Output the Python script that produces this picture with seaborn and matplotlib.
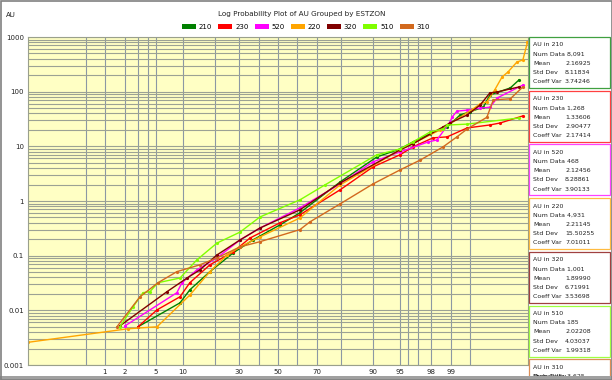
import numpy as np
import pandas as pd
import matplotlib
matplotlib.use("Agg")
import matplotlib.pyplot as plt
import seaborn as sns
from matplotlib.patches import Rectangle
from matplotlib.ticker import LogLocator, NullFormatter
from statistics import NormalDist

# ---------------- data ----------------
groups = ["210", "230", "520", "220", "320", "510", "310"]
colors = ["#008000", "#ff0000", "#ff00ff", "#ffa500", "#800000", "#80ff00", "#d2691e"]

p_210 = [2.99, 9.39, 11.8, 18.0, 27.3, 36.8, 51.1, 61.6, 79.8, 90.8, 94.95, 96.5, 97.95, 98.85, 99.28, 99.51, 99.71, 99.78, 99.91, 99.94]
v_210 = [0.005, 0.0137, 0.0237, 0.051, 0.112, 0.194, 0.366, 0.61, 2.23, 6.4, 8.95, 12.0, 16.9, 22.6, 37.5, 43, 52, 87, 117, 164]

p_230 = [2.99, 5.2, 9.39, 11.8, 18.0, 27.3, 35.3, 51.1, 61.6, 79.8, 89.9, 94.95, 96.5, 98.14, 98.85, 99.45, 99.78, 99.86, 99.95]
v_230 = [0.005, 0.0102, 0.0177, 0.032, 0.068, 0.117, 0.21, 0.40, 0.56, 1.6, 4.2, 7.0, 9.75, 14.3, 14.9, 21.7, 24.6, 26.8, 36]

p_520 = [1.99, 8.7, 9.85, 13.8, 20.6, 30.5, 40.4, 61.6, 79.8, 89.9, 94.95, 97.8, 98.37, 98.96, 99.03, 99.19, 99.45, 99.67, 99.78, 99.84, 99.95]
v_520 = [0.0052, 0.021, 0.032, 0.055, 0.091, 0.194, 0.32, 0.75, 2.05, 5.2, 7.9, 12.0, 13.1, 28, 34, 44, 46, 50, 52, 77, 132]

p_220 = [0.039, 2.19, 5.2, 11.8, 18.0, 24.7, 30.5, 40.4, 61.6, 79.8, 94.95, 98.53, 99.56, 99.67, 99.75, 99.82, 99.87, 99.90, 99.934, 99.95, 99.96]
v_220 = [0.0026, 0.0046, 0.005, 0.019, 0.051, 0.103, 0.145, 0.22, 0.49, 1.97, 8.6, 20, 48, 60, 65, 107, 186, 229, 349, 380, 800]

p_320 = [1.68, 6.8, 11.07, 14.7, 20.6, 30.5, 40.4, 61.6, 79.8, 94.95, 96.5, 98.67, 98.96, 99.45, 99.67, 99.78, 99.84, 99.94]
v_320 = [0.0052, 0.022, 0.039, 0.055, 0.103, 0.194, 0.32, 0.69, 2.14, 8.6, 11.1, 22.6, 26.8, 37.5, 57, 95, 99, 122]

p_510 = [1.68, 2.57, 3.48, 4.27, 5.34, 9.39, 13.8, 20.6, 30.5, 40.4, 61.6, 73.6, 90.8, 94.95, 96.5, 97.95, 98.67, 98.85, 99.45, 99.94]
v_510 = [0.005, 0.0116, 0.021, 0.022, 0.032, 0.039, 0.084, 0.17, 0.27, 0.51, 1.05, 1.97, 7.0, 8.95, 12.0, 18.3, 20.8, 24.5, 25.5, 33]

p_310 = [1.52, 3.18, 5.34, 8.7, 14.7, 20.6, 30.5, 40.4, 61.6, 66.6, 79.8, 89.9, 94.95, 97.2, 98.67, 99.19, 99.45, 99.75, 99.81, 99.91, 99.95]
v_310 = [0.005, 0.0177, 0.032, 0.051, 0.068, 0.091, 0.145, 0.18, 0.30, 0.415, 0.885, 2.05, 3.7, 5.6, 9.75, 14.9, 20.8, 34, 71, 74, 122]

num_data = ["8,091", "1,268", "468", "4,931", "1,001", "185", "3,625"]
means = ["2.16925", "1.33606", "2.12456", "2.21145", "1.89990", "2.02208", ""]
stds = ["8.11834", "2.90477", "8.28861", "15.50255", "6.71991", "4.03037", ""]
cvs = ["3.74246", "2.17414", "3.90133", "7.01011", "3.53698", "1.99318", ""]

x_tick_labels = [1, 2, 5, 10, 30, 50, 70, 90, 95, 98, 99]
x_grid = [0.5, 1, 2, 3, 4, 5, 10, 20, 30, 40, 50, 60, 70, 80, 90, 95, 96, 97, 98, 99, 99.5]
y_ticks = [0.001, 0.01, 0.1, 1, 10, 100, 1000]
y_tick_labels = ["0.001", "0.01", "0.1", "1", "10", "100", "1000"]

series_p = [p_210, p_230, p_520, p_220, p_320, p_510, p_310]
series_v = [v_210, v_230, v_520, v_220, v_320, v_510, v_310]

df = pd.concat(
    [pd.DataFrame({"p": p, "v": v, "group": g}) for g, p, v in zip(groups, series_p, series_v)],
    ignore_index=True,
)

# ---------------- probability scale ----------------
_nd = NormalDist()
_fwd = np.vectorize(lambda q: _nd.inv_cdf(min(max(q, 1e-7), 100 - 1e-7) / 100.0), otypes=[float])
_inv = np.vectorize(lambda t: _nd.cdf(t) * 100.0, otypes=[float])


def fwd(p):
    return _fwd(np.asarray(p, dtype=float))


def inv(z):
    return _inv(np.asarray(z, dtype=float))


# ---------------- figure ----------------
W, H = 612, 380
fig = plt.figure(figsize=(W / 100, H / 100), dpi=100)
fig.patch.set_facecolor("white")
ax = fig.add_axes([28 / W, 15 / H, 500 / W, 328 / H])
ax.set_facecolor("#ffffc4")

sns.lineplot(
    data=df, x="p", y="v", hue="group", hue_order=groups, palette=colors,
    marker="o", markersize=2.3, markeredgewidth=0, linewidth=1.0,
    estimator=None, sort=False, legend=False, ax=ax,
)

ax.set_yscale("log")
ax.set_xscale("function", functions=(fwd, inv))
ax.set_xlim(0.039, 99.961)
ax.set_ylim(0.001, 1000)

ax.set_xticks(x_grid, labels=[str(v) if v in x_tick_labels else "" for v in x_grid])
ax.xaxis.set_minor_locator(matplotlib.ticker.NullLocator())
ax.set_yticks(y_ticks, labels=y_tick_labels)
ax.yaxis.set_minor_locator(LogLocator(base=10, subs=np.arange(2, 10)))
ax.yaxis.set_minor_formatter(NullFormatter())

ax.grid(which="major", axis="x", color="#8c98a4", lw=0.8)
ax.grid(which="both", axis="y", color="#9ca294", lw=0.8)
ax.set_axisbelow(True)
ax.tick_params(which="both", length=0, labelsize=5, colors="#222222", pad=3)
ax.set_xlabel("")
ax.set_ylabel("")
for s in ax.spines.values():
    s.set_color("#9aa08c")
    s.set_linewidth(0.8)

# title / labels
fig.text(302 / W, 1 - 14 / H, "Log Probability Plot of AU Grouped by ESTZON",
         ha="center", va="center", fontsize=5.2, color="#222222")
fig.text(6 / W, 1 - 15 / H, "AU", ha="left", va="center", fontsize=5, color="#222222")

handles = [Rectangle((0, 0), 1, 1, fc=c, ec="none") for c in colors]
fig.legend(handles, groups, ncol=7, loc="center", bbox_to_anchor=(306 / W, 1 - 27 / H),
           frameon=False, fontsize=5, handlelength=2.0, handleheight=0.8,
           columnspacing=0.9, handletextpad=0.4, borderpad=0)

# stats boxes
pitch = 53.7
for i, g in enumerate(groups):
    top = 37 + i * pitch
    rect = Rectangle((529 / W, 1 - (top + 51) / H), 81 / W, 51 / H, transform=fig.transFigure,
                     fc="white", ec=colors[i], lw=0.9, alpha=0.75, zorder=2)
    fig.patches.append(rect)
    lines = [("AU in " + g, ""), ("Num Data " + num_data[i], ""), ("Mean", means[i]),
             ("Std Dev", stds[i]), ("Coeff Var", cvs[i])]
    if i == len(groups) - 1:
        lines = lines[:2]
    for j, (lab, val) in enumerate(lines):
        yy = 1 - (top + 8 + j * 9.2) / H
        fig.text(533 / W, yy, lab, ha="left", va="center", fontsize=4.5, color="#222222", zorder=3)
        if val:
            fig.text(565 / W, yy, val, ha="left", va="center", fontsize=4.5, color="#222222", zorder=3)
    if i == len(groups) - 1:
        fig.text(533 / W, 1 - (top + 8 + 9.2) / H, "Probability", ha="left", va="center",
                 fontsize=4.5, color="#222222", zorder=3)

# window frame
fig.patches.append(Rectangle((0, 0), 1, 4 / H, transform=fig.transFigure, fc="#a0a0a0",
                             ec="none", zorder=10))
fig.patches.append(Rectangle((0.5 / W, 0.5 / H), (W - 1) / W, (H - 1) / H, transform=fig.transFigure,
                             fc="none", ec="#808080", lw=1.2, zorder=10))

fig.savefig("out.png", dpi=100)
